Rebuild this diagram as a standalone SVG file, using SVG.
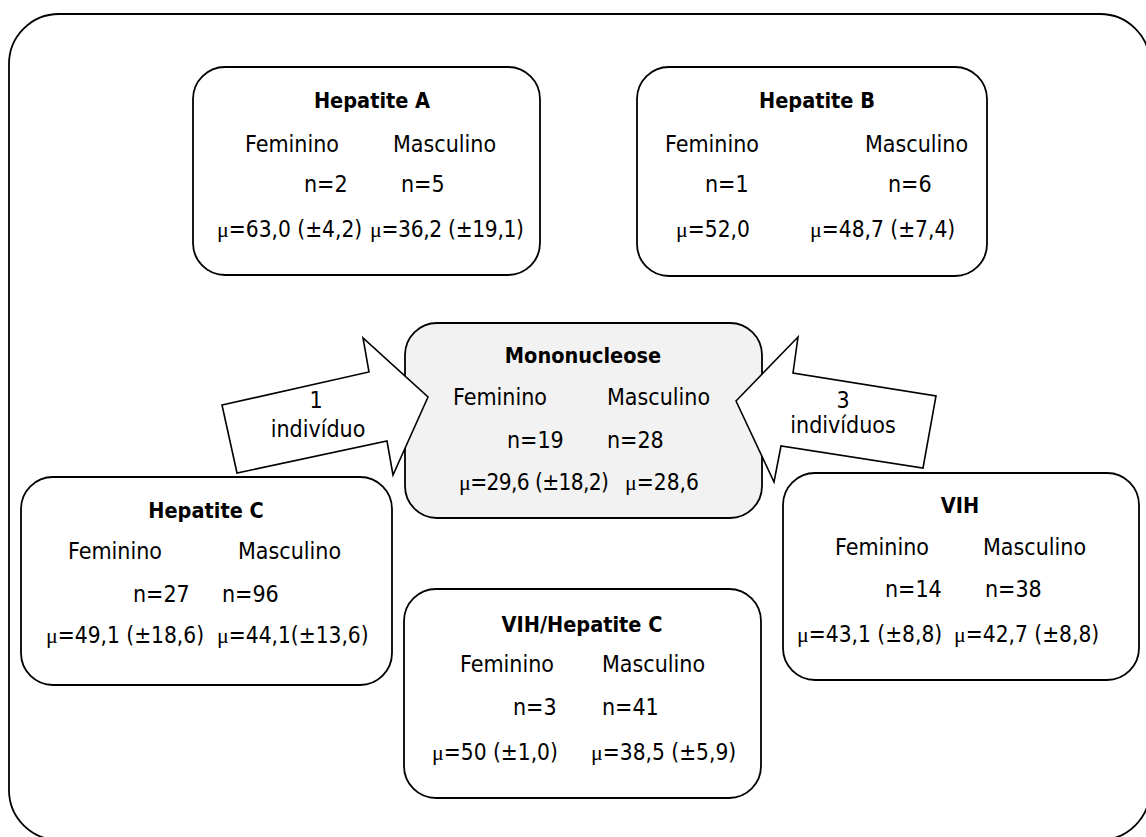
<svg xmlns="http://www.w3.org/2000/svg" width="1146" height="837" viewBox="0 0 1146 837">
<style>
.box{fill:#fff;stroke:#000;stroke-width:1.8}
.grey{fill:#f2f2f2}
.arrow{fill:#fff;stroke:#000;stroke-width:1.6;stroke-linejoin:miter}
text{font-family:"DejaVu Sans Condensed","DejaVu Sans","Liberation Sans",sans-serif;font-stretch:condensed;font-size:23px;fill:#000}
.t{font-weight:bold;text-anchor:middle;font-size:21.5px}
.m{text-anchor:middle}
.v{font-size:22.5px}
.mu{font-family:"Liberation Serif",serif;font-size:22px}
</style>
<rect x="9" y="14" width="1141" height="826" rx="50" fill="#fff" stroke="#000" stroke-width="1.8"/>
<g id="hepA">
<rect class="box" x="193" y="67" width="347" height="208" rx="32"/>
<text class="t" x="372" y="108">Hepatite A</text>
<text x="245" y="152">Feminino</text><text x="393" y="152">Masculino</text>
<text x="304" y="192">n=2</text><text x="401" y="192">n=5</text>
<text class="v" x="217" y="237"><tspan class="mu">μ</tspan>=63,0 (±4,2)</text>
<text class="v" x="370" y="237" textLength="154"><tspan class="mu">μ</tspan>=36,2 (±19,1)</text>
</g>
<g id="hepB">
<rect class="box" x="637" y="67" width="350" height="209" rx="32"/>
<text class="t" x="817" y="108">Hepatite B</text>
<text x="665" y="152">Feminino</text><text x="865" y="152">Masculino</text>
<text x="705" y="192">n=1</text><text x="888" y="192">n=6</text>
<text class="v" x="676" y="237"><tspan class="mu">μ</tspan>=52,0</text>
<text class="v" x="810" y="237"><tspan class="mu">μ</tspan>=48,7 (±7,4)</text>
</g>
<g id="mono">
<rect class="box grey" x="405" y="323" width="357" height="195" rx="32"/>
<text class="t" x="583" y="363">Mononucleose</text>
<text x="453" y="405">Feminino</text><text x="607" y="405">Masculino</text>
<text x="507" y="448">n=19</text><text x="607" y="448">n=28</text>
<text class="v" x="459" y="490" textLength="150"><tspan class="mu">μ</tspan>=29,6 (±18,2)</text>
<text class="v" x="625" y="490"><tspan class="mu">μ</tspan>=28,6</text>
</g>
<g id="connectors">
<g id="arrow1">
<polygon class="arrow" points="222,405 369,372 363,338 428,397 393,475 387,441 237,473"/>
<text class="m" x="316" y="408">1</text>
<text class="m" x="318" y="437">indivíduo</text>
</g>
<g id="arrow3">
<polygon class="arrow" points="736,401 798,337 793,373 936,396 923,468 781,446 774,482"/>
<text class="m" x="843" y="408">3</text>
<text class="m" x="843" y="433">indivíduos</text>
</g>
</g>
<g id="hepC">
<rect class="box" x="21" y="477" width="371" height="208" rx="32"/>
<text class="t" x="206" y="518">Hepatite C</text>
<text x="68" y="559">Feminino</text><text x="238" y="559">Masculino</text>
<text x="133" y="602">n=27</text><text x="222" y="602">n=96</text>
<text class="v" x="46" y="643"><tspan class="mu">μ</tspan>=49,1 (±18,6)</text>
<text class="v" x="217" y="643"><tspan class="mu">μ</tspan>=44,1(±13,6)</text>
</g>
<g id="vihhepC">
<rect class="box" x="404" y="589" width="357" height="209" rx="32"/>
<text class="t" x="582" y="632">VIH/Hepatite C</text>
<text x="460" y="672">Feminino</text><text x="602" y="672">Masculino</text>
<text x="513" y="715">n=3</text><text x="602" y="715">n=41</text>
<text class="v" x="432" y="760"><tspan class="mu">μ</tspan>=50 (±1,0)</text>
<text class="v" x="591" y="760"><tspan class="mu">μ</tspan>=38,5 (±5,9)</text>
</g>
<g id="vih">
<rect class="box" x="783" y="473" width="356" height="207" rx="32"/>
<text class="t" x="960" y="513">VIH</text>
<text x="835" y="555">Feminino</text><text x="983" y="555">Masculino</text>
<text x="885" y="597">n=14</text><text x="985" y="597">n=38</text>
<text class="v" x="797" y="642"><tspan class="mu">μ</tspan>=43,1 (±8,8)</text>
<text class="v" x="954" y="642"><tspan class="mu">μ</tspan>=42,7 (±8,8)</text>
</g>
</svg>
